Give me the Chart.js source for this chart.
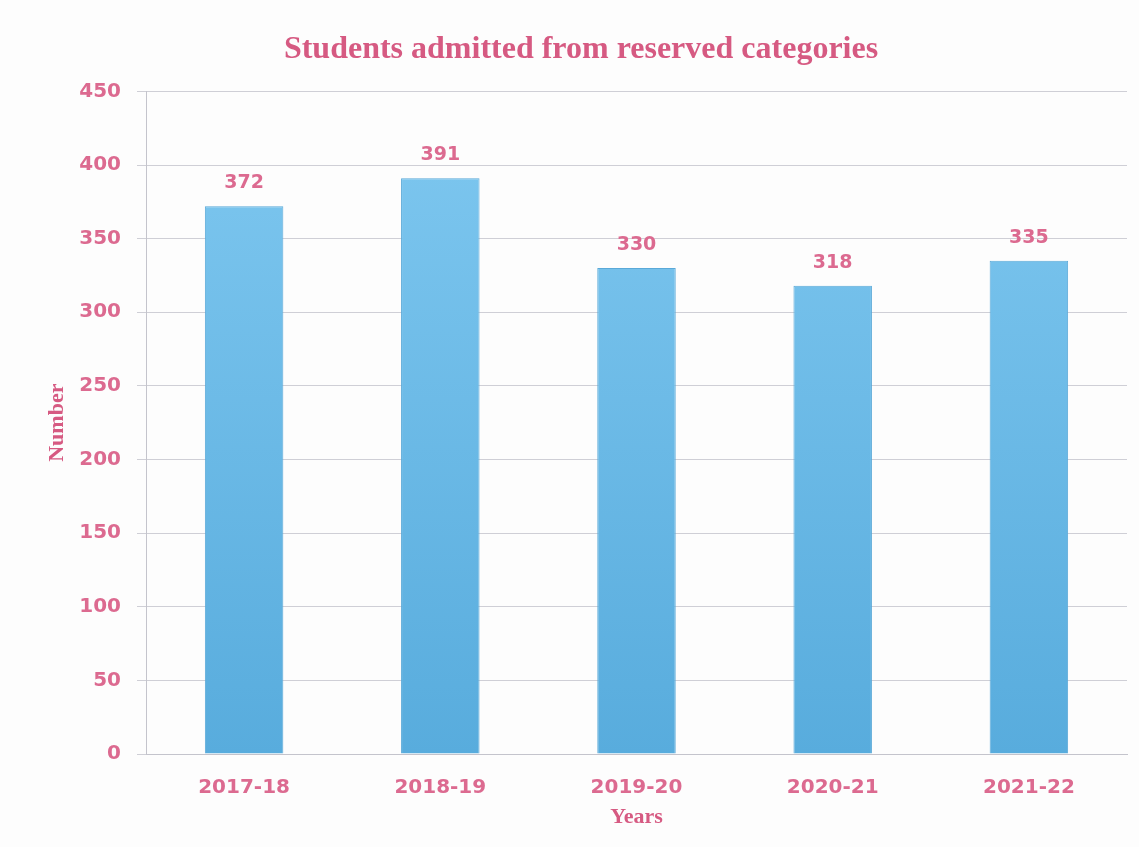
<!DOCTYPE html>
<html lang="en">
<head>
  <meta charset="UTF-8">
  <title>Students admitted from reserved categories</title>
  <script src="https://cdn.jsdelivr.net/npm/chart.js@4.4.1/dist/chart.umd.min.js"></script>
  <style>
    html, body {
      margin: 0;
      padding: 0;
      background: #fdfdfd;
    }
    #chart-container {
      width: 1139px;
      height: 847px;
    }
  </style>
</head>
<body>

  <div id="chart-container">
    <canvas id="myChart"></canvas>
  </div>

  <script>
    // data
    const years = ['2017-18', '2018-19', '2019-20', '2020-21', '2021-22'];
    const admitted = [372, 391, 330, 318, 335];
    const yTicks = [0, 50, 100, 150, 200, 250, 300, 350, 400, 450];

    const pink = '#d65a82';
    const pinkLight = '#dc6a90';

    // numbers on top of the bars
    const barValues = {
      id: 'barValues',
      afterDatasetsDraw(chart) {
        const ctx = chart.ctx;
        const meta = chart.getDatasetMeta(0);
        ctx.save();
        ctx.font = 'bold 19px "DejaVu Sans"';
        ctx.fillStyle = pinkLight;
        ctx.textAlign = 'center';
        ctx.textBaseline = 'middle';
        meta.data.forEach((bar, i) => {
          ctx.fillText(String(admitted[i]), bar.x, bar.y - 23);
        });
        ctx.restore();
      }
    };

    function barFill(context) {
      const area = context.chart.chartArea;
      if (!area) return '#62b4e4';
      const g = context.chart.ctx.createLinearGradient(0, area.top, 0, area.bottom);
      g.addColorStop(0, '#7fc8f0');
      g.addColorStop(1, '#58acdd');
      return g;
    }

    const ctx = document.getElementById('myChart').getContext('2d');

    new Chart(ctx, {
      type: 'bar',
      data: {
        labels: years,
        datasets: [{
          label: 'Number',
          data: admitted,
          backgroundColor: barFill,
          borderColor: '#5aa9d8',
          borderWidth: 1,
          barPercentage: 0.4,
          categoryPercentage: 1.0
        }]
      },
      options: {
        responsive: true,
        maintainAspectRatio: false,
        animation: false,
        layout: {
          padding: { left: 35, right: 12, top: 0, bottom: 0 }
        },
        plugins: {
          legend: { display: false },
          tooltip: { enabled: false },
          title: {
            display: true,
            text: 'Students admitted from reserved categories',
            color: pink,
            font: { family: '"Liberation Serif", "Times New Roman", serif', size: 32, weight: 'bold' },
            padding: { top: 31, bottom: 22 }
          }
        },
        scales: {
          x: {
            grid: { display: false },
            border: { display: true, color: '#c4c4cc', width: 1 },
            ticks: {
              color: pinkLight,
              font: { family: '"DejaVu Sans"', size: 20, weight: 'bold' },
              padding: 14
            },
            title: {
              display: true,
              text: 'Years',
              color: pink,
              font: { family: '"Liberation Serif", "Times New Roman", serif', size: 22, weight: 'bold' },
              padding: { top: 0, bottom: 16 }
            },
            afterFit(scale) { scale.height = 93; }
          },
          y: {
            min: 0,
            max: 450,
            afterBuildTicks(scale) {
              scale.ticks = yTicks.map(v => ({ value: v }));
            },
            grid: {
              color: '#cfcfd6',
              lineWidth: 1,
              tickLength: 9
            },
            border: { display: true, color: '#c4c4cc', width: 1 },
            ticks: {
              color: pinkLight,
              font: { family: '"DejaVu Sans"', size: 20, weight: 'bold' },
              padding: 16
            },
            title: {
              display: true,
              text: 'Number',
              color: pink,
              font: { family: '"Liberation Serif", "Times New Roman", serif', size: 22, weight: 'bold' },
              padding: { top: 9, bottom: 0 }
            },
            afterFit(scale) { scale.width = 111; }
          }
        }
      },
      plugins: [barValues]
    });
  </script>

</body>
</html>
